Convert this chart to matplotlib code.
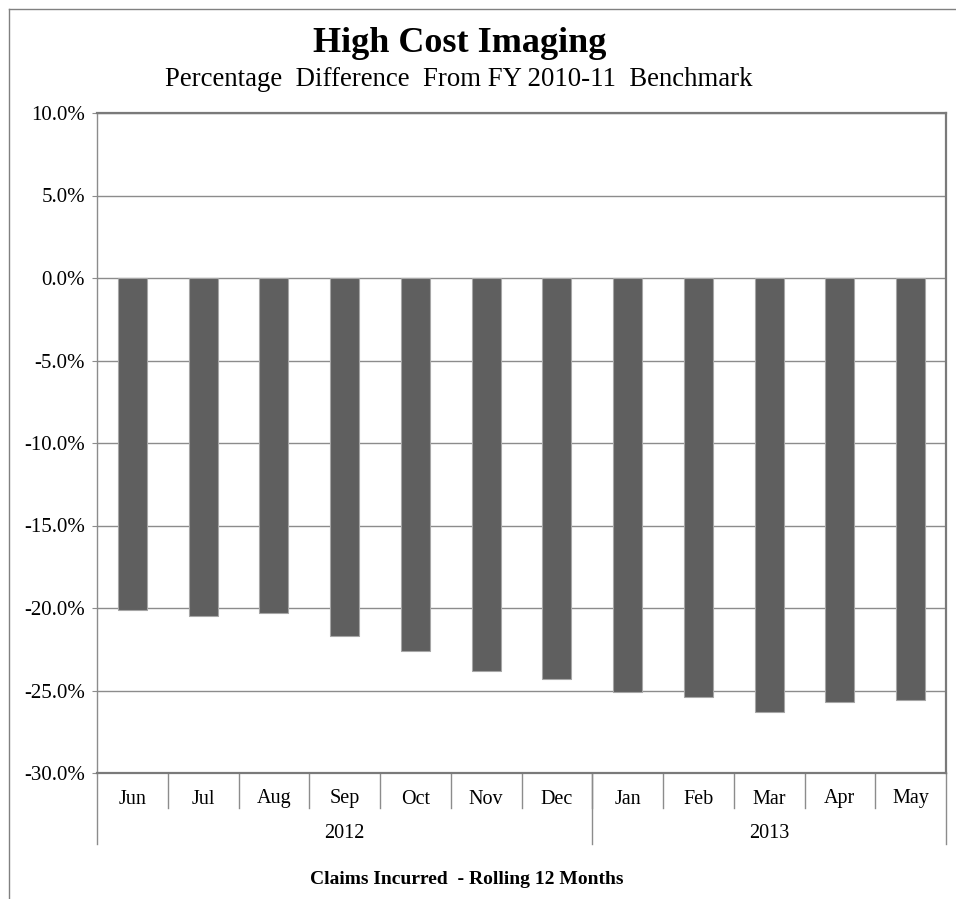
import matplotlib.pyplot as plt
from matplotlib.lines import Line2D

# percentage difference by month (rolling 12 months)
months = ["Jun", "Jul", "Aug", "Sep", "Oct", "Nov", "Dec",
          "Jan", "Feb", "Mar", "Apr", "May"]
pct_diff = [-20.1, -20.5, -20.3, -21.7, -22.6, -23.8, -24.3,
            -25.1, -25.4, -26.3, -25.7, -25.6]
years = ["2012", "2013"]
year_spans = [(0, 6), (7, 11)]  # first / last month index for each year
yticks = [10, 5, 0, -5, -10, -15, -20, -25, -30]

plt.rcParams['font.family'] = ['Liberation Serif', 'DejaVu Serif']

W, H = 956, 899
fig = plt.figure(figsize=(W / 100, H / 100), dpi=100)

# chart border (top and left edges only show)
fig.add_artist(Line2D([9 / W, 9 / W], [0, 1 - 9 / H], color='#808080', lw=1))
fig.add_artist(Line2D([9 / W, 1], [1 - 9 / H, 1 - 9 / H], color='#808080', lw=1))

left, right, top, bottom = 97, 946, 113, 773
ax = fig.add_axes([left / W, 1 - bottom / H, (right - left) / W, (bottom - top) / H])

x = list(range(len(months)))
ax.bar(x, pct_diff, width=0.41, color='#5f5f5f', edgecolor='#a6a6a6', linewidth=0.8, zorder=3)

ax.set_xlim(-0.5, len(months) - 0.5)
ax.set_ylim(-30, 10)
ax.set_yticks(yticks)
ax.set_yticklabels(["%.1f%%" % v for v in yticks], fontsize=15)
ax.yaxis.grid(True, color='#8c8c8c', linewidth=1, zorder=0)
ax.tick_params(axis='y', direction='out', length=3.6, color='#8c8c8c', pad=5)
ax.set_xticks([])

for side in ['top', 'bottom', 'right']:
    ax.spines[side].set_color('#7a7a7a')
    ax.spines[side].set_linewidth(1.6)
ax.spines['left'].set_color('#8c8c8c')
ax.spines['left'].set_linewidth(1)

# two-level category axis: months, then years
trans = ax.get_xaxis_transform()
ah = bottom - top
for i, m in enumerate(months):
    ax.text(i, -26 / ah, m, transform=trans, ha='center', va='center', fontsize=14.5)
for i in range(1, len(months)):
    ax.plot([i - 0.5, i - 0.5], [0, -35 / ah], transform=trans, color='#8c8c8c',
            lw=1, clip_on=False)
for yr, (a, b) in zip(years, year_spans):
    ax.text((a + b) / 2, -60 / ah, yr, transform=trans, ha='center', va='center', fontsize=14.5)
for xb in [-0.5, 6.5, 11.5]:
    ax.plot([xb, xb], [0, -71 / ah], transform=trans, color='#8c8c8c', lw=1, clip_on=False)

fig.text(460 / W, 1 - 44 / H, "High Cost Imaging", ha='center', va='center',
         fontsize=26, fontweight='bold')
fig.text(459 / W, 1 - 79 / H, "Percentage  Difference  From FY 2010-11  Benchmark",
         ha='center', va='center', fontsize=19.3)
fig.text(467 / W, 1 - 880 / H, "Claims Incurred  - Rolling 12 Months", ha='center',
         va='center', fontsize=14, fontweight='bold')

fig.savefig("out.png", dpi=100)
